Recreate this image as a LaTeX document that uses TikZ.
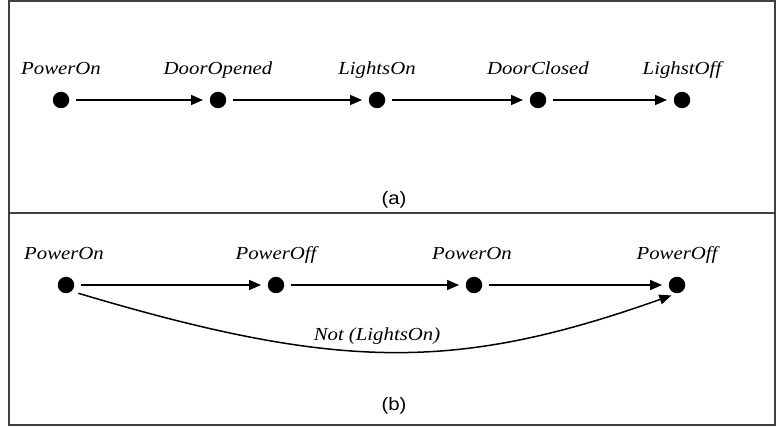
\documentclass[tikz,border=0pt]{standalone}
\usepackage{fontspec}
\usetikzlibrary{arrows.meta}
\newfontfamily\lblfont[FakeStretch=1.13]{Liberation Serif}
\newfontfamily\capfont[FakeStretch=1.13]{Liberation Sans}
\begin{document}
\begin{tikzpicture}[x=1pt,y=-1pt,
  frame/.style={draw=black!75,line width=1.2pt},
  dot/.style={circle,fill=black,inner sep=0pt,minimum size=16.5pt},
  lbl/.style={anchor=base,inner sep=0pt,font=\lblfont\itshape\fontsize{18.4}{20}\selectfont},
  subcap/.style={inner sep=0pt,font=\capfont\fontsize{18}{20}\selectfont},
  arr/.style={-{Triangle[length=12pt,width=10pt]},line width=1.5pt,shorten <=6.5pt,shorten >=6.5pt}]
\useasboundingbox (0,0) rectangle (779,427);
\draw[frame] (9,1) rectangle (775,425);
\draw[frame] (9,213) -- (775,213);
% (a)
\node[dot] (a1) at (61,100) {};
\node[dot] (a2) at (218,100) {};
\node[dot] (a3) at (377,100) {};
\node[dot] (a4) at (538,100) {};
\node[dot] (a5) at (682,100) {};
\node[lbl] (la1) at (61,75) {PowerOn};
\node[lbl] (la2) at (218,75) {DoorOpened};
\node[lbl] (la3) at (377,75) {LightsOn};
\node[lbl] (la4) at (538,75) {DoorClosed};
\node[lbl] (la5) at (682,75) {LighstOff};
\draw[arr] (a1) -- (a2);
\draw[arr] (a2) -- (a3);
\draw[arr] (a3) -- (a4);
\draw[arr] (a4) -- (a5);
\node[subcap] (capa) at (394,200) {(a)};
% (b)
\node[dot] (b1) at (66,285) {};
\node[dot] (b2) at (276,285) {};
\node[dot] (b3) at (474,285) {};
\node[dot] (b4) at (677,285) {};
\node[lbl] (lb1) at (64,260) {PowerOn};
\node[lbl] (lb2) at (276,260) {PowerOff};
\node[lbl] (lb3) at (472,260) {PowerOn};
\node[lbl] (lb4) at (677,260) {PowerOff};
\draw[arr] (b1) -- (b2);
\draw[arr] (b2) -- (b3);
\draw[arr] (b3) -- (b4);
\draw[arr,shorten <=7pt,shorten >=6pt] (b1.-48) .. controls +(268,80) and +(-220,78) .. (b4.-90);
\node[lbl] (lnot) at (377,341) {Not (LightsOn)};
\node[subcap] (capb) at (394,406) {(b)};
\end{tikzpicture}
\end{document}
